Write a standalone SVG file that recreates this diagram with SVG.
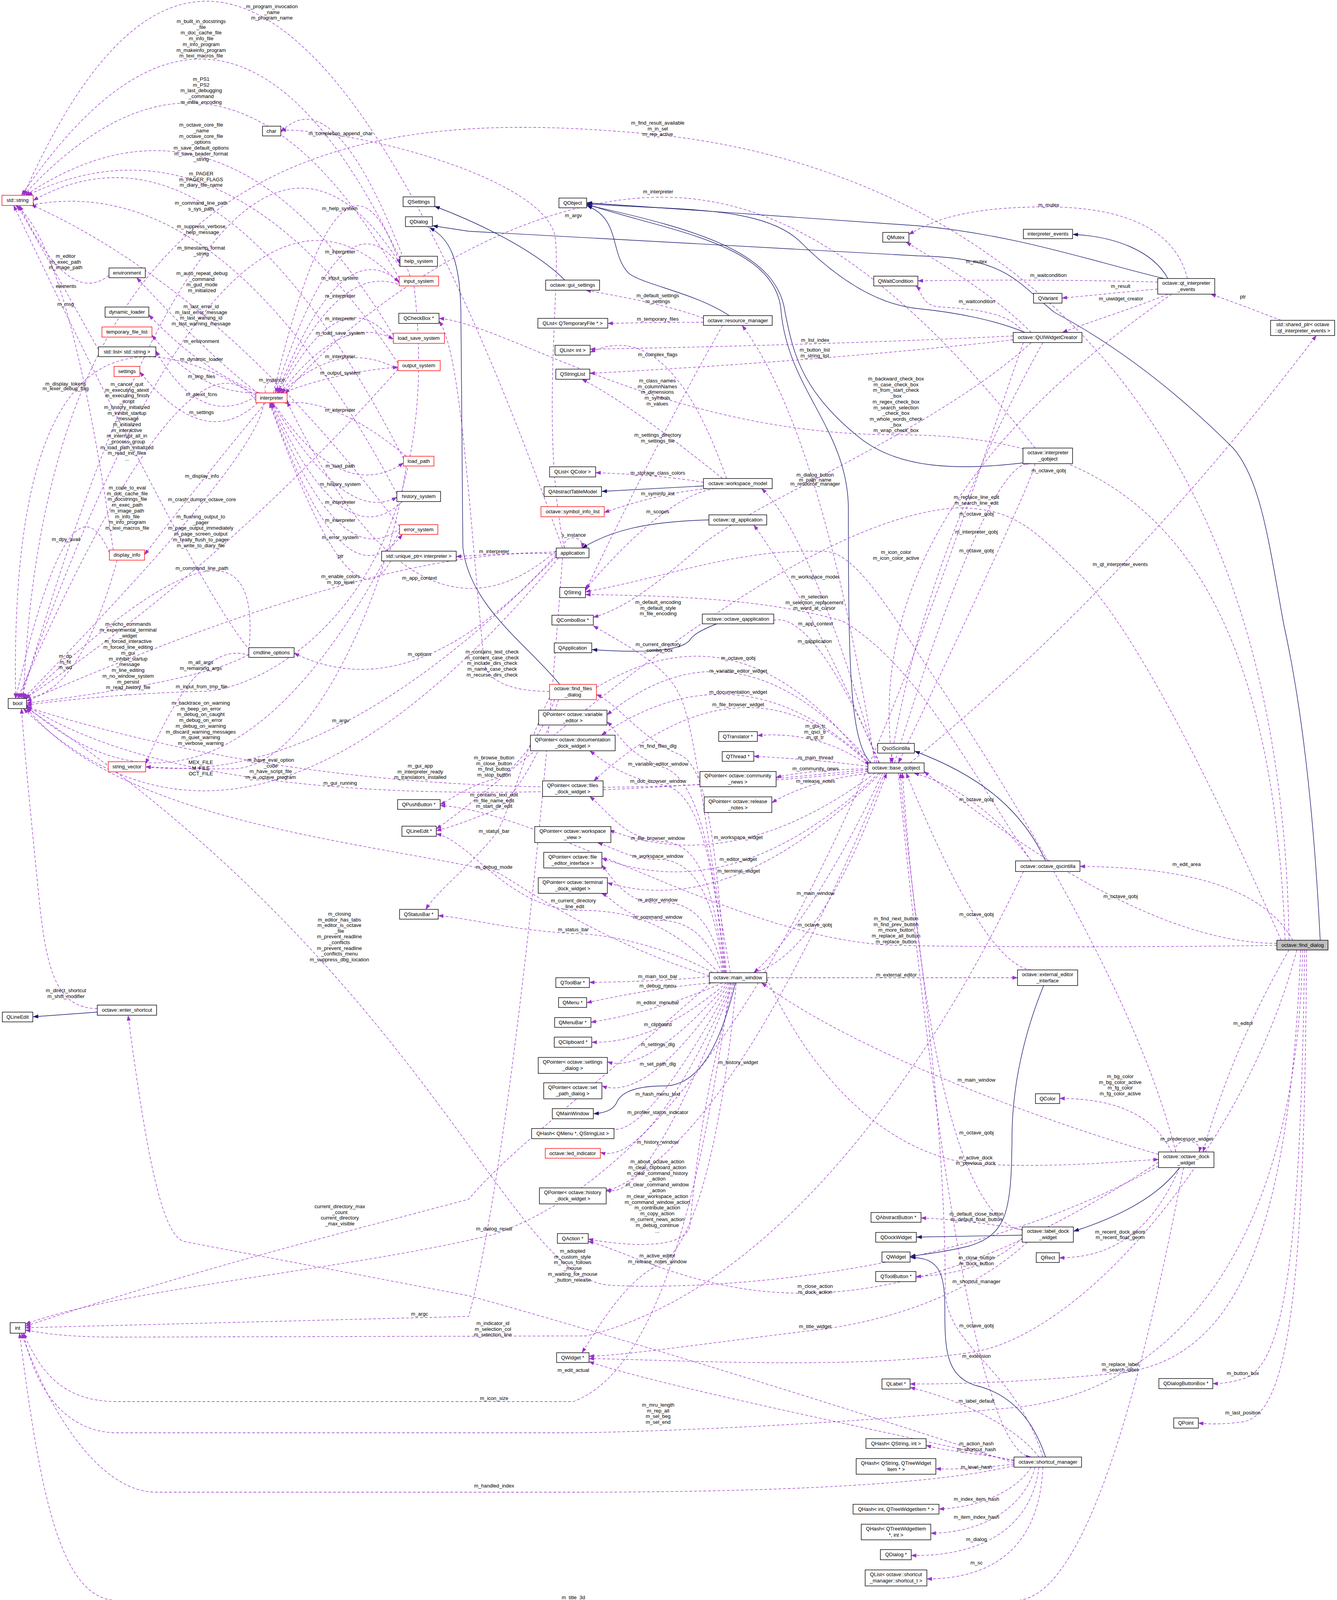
<svg xmlns="http://www.w3.org/2000/svg" width="3423" height="4104" viewBox="0 0 3423 4104">
<style>
text{font-family:"Liberation Sans",Arial,sans-serif;font-size:13px;fill:#000;text-anchor:middle}
.nd rect{fill:#fff;stroke:#000;stroke-width:1.4}
.nd.r rect{stroke:#f00}
.nd.g rect{fill:#bfbfbf}
.e path{fill:none;stroke:#9a32cd;stroke-width:1.3;stroke-dasharray:7,5;marker-end:url(#ap)}
.i path{fill:none;stroke:#191970;stroke-width:1.4;marker-end:url(#ai)}
</style>
<defs>
<marker id="ap" viewBox="0 0 14 10" refX="13" refY="5" markerWidth="14" markerHeight="10" markerUnits="userSpaceOnUse" orient="auto"><path d="M0,0 L14,5 L0,10 z" fill="#9a32cd"/></marker>
<marker id="ai" viewBox="0 0 14 10" refX="13" refY="5" markerWidth="14" markerHeight="10" markerUnits="userSpaceOnUse" orient="auto"><path d="M0,0 L14,5 L0,10 z" fill="#191970"/></marker>
</defs>
<rect width="3423" height="4104" fill="#fff"/>
<g id="connectors">
<g class="i">
<path d="M3380,2407 C3360,2000 3320,1750 3287,1600 C3250,1400 3230,1230 3157,1147 C3000,990 2850,880 2700,800 C2600,720 2580,660 2350,655 L1200,592 L1108,578"/>
<path d="M1433,1752 C1350,1650 1200,1550 1185,1400 L1180,800 C1178,660 1150,610 1100,583"/>
<path d="M1446,717 C1380,650 1250,580 1113,528"/>
<path d="M1867,808 C1780,750 1650,730 1610,700 C1560,650 1590,560 1503,527"/>
<path d="M2230,1953 C2175,1900 2172,1700 2172,1300 C2170,1100 2020,1000 2000,800 C1990,620 1700,590 1503,523"/>
<path d="M2619,1185 C2450,1205 2300,1200 2200,1120 C2050,1000 2030,900 2010,800 C1990,650 1800,590 1503,525"/>
<path d="M2980,713 C2800,670 2600,600 2350,578 L1503,519"/>
<path d="M2624,851 C2550,820 2450,800 2350,790 C2250,780 2150,720 2050,620 C1950,520 1700,540 1503,521"/>
<path d="M2990,713 C2950,640 2850,605 2747,600"/>
<path d="M2677,2204 C2620,2080 2520,1990 2342,1923"/>
<path d="M2672,2523 C2620,2650 2593,2780 2591,2900 C2590,3100 2580,3160 2480,3190 C2420,3205 2360,3212 2331,3216"/>
<path d="M2617,3162 L2347,3167"/>
<path d="M3020,2989 C2960,3070 2850,3120 2749,3152"/>
<path d="M2677,3730 C2650,3650 2600,3570 2495,3546 C2420,3520 2419,3450 2419,3350 C2419,3250 2400,3220 2331,3219"/>
<path d="M1883,2516 C1850,2650 1800,2780 1700,2780 C1620,2780 1590,2800 1580,2820 C1570,2845 1540,2850 1520,2851"/>
<path d="M1801,1244 L1541,1258"/>
<path d="M1815,1331 C1650,1335 1560,1360 1491,1403"/>
<path d="M1835,1597 C1790,1615 1775,1625 1765,1640 C1740,1668 1640,1672 1516,1663"/>
<path d="M249,2591 L85,2603"/>
</g>
<g class="e">
<path d="M1440,1403 Q650,-831 60,500"/>
<path d="M1024,662 Q580,-271 55,500"/>
<path d="M1022,712 Q579,-62 60,500"/>
<path d="M1007,858 Q584,153 65,500"/>
<path d="M1019,930 Q575,257 70,500"/>
<path d="M1033,1174 Q561,250 85,513"/>
<path d="M1023,1348 Q568,744 80,524"/>
<path d="M1016,1264 Q574,425 75,526"/>
<path d="M279,705 Q175,788 50,526"/>
<path d="M252,895 Q191,785 45,526"/>
<path d="M290,1408 Q175,623 40,526"/>
<path d="M640,1665 Q502,1504 35,526"/>
<path d="M1024,675 Q580,-21 55,1788"/>
<path d="M1022,725 Q584,258 50,1788"/>
<path d="M655,1012 Q20,620 40,1788"/>
<path d="M655,1025 Q480,793 45,1788"/>
<path d="M655,1015 Q513,1100 399,898"/>
<path d="M660,1031 Q523,1158 358,952"/>
<path d="M660,1006 Q535,911 350,711"/>
<path d="M665,1006 Q517,950 381,806"/>
<path d="M670,1006 Q510,1012 389,858"/>
<path d="M680,1006 C668,968 722,968 710,1006"/>
<path d="M700,1006 Q878,259 1024,676"/>
<path d="M1024,682 Q875,476 705,1006"/>
<path d="M710,1006 Q874,590 1022,722"/>
<path d="M1030,732 Q869,661 712,1006"/>
<path d="M1010,879 Q877,701 715,1006"/>
<path d="M718,1006 Q877,799 1007,868"/>
<path d="M1019,945 Q870,864 720,1006"/>
<path d="M722,1006 Q869,951 1019,940"/>
<path d="M1050,707 Q860,191 719,338"/>
<path d="M1040,1168 Q857,1016 725,1031"/>
<path d="M700,1031 Q873,1292 1033,1185"/>
<path d="M698,1031 Q883,1344 1016,1273"/>
<path d="M1030,1284 Q877,1430 696,1031"/>
<path d="M1035,1343 Q875,1493 694,1031"/>
<path d="M692,1031 Q879,1568 1030,1368"/>
<path d="M1000,1436 Q899,1630 690,1031"/>
<path d="M680,1031 Q515,1230 370,1420"/>
<path d="M675,1031 Q666,1166 60,1788"/>
<path d="M1019,945 Q578,1443 65,1788"/>
<path d="M280,1415 Q180,1178 40,1788"/>
<path d="M637,1665 Q683,1202 65,1790"/>
<path d="M1424,1418 Q998,1393 68,1795"/>
<path d="M1424,1410 Q1068,1721 735,1028"/>
<path d="M1424,1420 Q1060,1824 753,1672"/>
<path d="M637,1675 Q527,1742 68,1800"/>
<path d="M300,1434 Q202,1789 55,1788"/>
<path d="M650,1683 Q516,1617 373,1955"/>
<path d="M1060,732 C1150,1500 700,1766 516,1770 C300,1775 100,1800 68,1805"/>
<path d="M1023,1360 Q574,2246 68,1808"/>
<path d="M1424,1425 Q845,2016 373,1963"/>
<path d="M1040,1193 C1000,1500 800,1960 600,1968 C500,1970 420,1965 373,1963"/>
<path d="M1430,1428 Q641,2379 60,1814"/>
<path d="M2222,1975 Q1007,2107 68,1810"/>
<path d="M2222,1970 Q597,2142 68,1806"/>
<path d="M3300,2407 C3280,900 2400,420 1684,345 C1000,280 120,300 60,1788"/>
<path d="M3290,2407 C3250,1300 2800,1113 2294,1113 C1700,1113 1300,830 1124,815"/>
<path d="M3269,2420 C3000,2425 2500,2425 2294,2420 C1900,2410 1400,2080 1127,2062"/>
<path d="M3280,2407 C3100,2000 2900,1600 2760,1466 C2650,1360 2600,1300 2450,1300 C2000,1330 1300,2000 1117,2122"/>
<path d="M3310,2407 C3250,2300 3100,2220 2765,2218"/>
<path d="M3300,2432 C3250,2520 3150,2700 3080,2949"/>
<path d="M3320,2432 C3200,2900 2800,3400 2500,3460 C2200,3510 1700,3480 1508,3478"/>
<path d="M3330,2432 C3300,3200 3150,3480 2868,3515 C2600,3540 2450,3543 2330,3543"/>
<path d="M3340,2432 C3330,3200 3290,3500 3182,3530 C3140,3542 3120,3542 3105,3542"/>
<path d="M3345,2432 C3340,3300 3300,3620 3182,3640 C3120,3648 3090,3645 3068,3643"/>
<path d="M3335,2432 C3320,3200 3000,3560 2600,3603 C2000,3660 1500,3668 1468,3668 L300,3668 C200,3668 100,3600 60,3413"/>
<path d="M2240,1953 Q2104,1107 1900,833"/>
<path d="M2245,1953 Q2077,1368 1950,1251"/>
<path d="M2250,1953 Q2086,1561 1930,1344"/>
<path d="M2252,1953 Q2066,1525 1960,1597"/>
<path d="M2230,1953 Q1888,1558 1554,1830"/>
<path d="M2228,1955 Q1896,1641 1540,1882"/>
<path d="M2226,1957 Q1907,1646 1520,1999"/>
<path d="M2222,1958 Q2093,1870 1939,1883"/>
<path d="M2222,1962 Q2100,1945 1930,1936"/>
<path d="M2222,1968 Q2072,1971 1987,1990"/>
<path d="M2230,1979 Q2073,1997 1976,2055"/>
<path d="M2240,1979 Q1880,2248 1560,2125"/>
<path d="M2250,1979 Q1885,2326 1541,2197"/>
<path d="M2255,1979 Q1877,2355 1555,2260"/>
<path d="M2260,1979 Q2081,2355 1930,2490"/>
<path d="M2265,1979 Q1871,2937 1552,3050"/>
<path d="M2290,1953 Q2535,1166 2640,1187"/>
<path d="M2330,1953 Q2886,1498 3370,859"/>
<path d="M2300,1979 Q2470,3721 2640,3730"/>
<path d="M2650,1187 Q2645,1230 2300,1953"/>
<path d="M3000,753 Q2197,1307 2285,1953"/>
<path d="M2670,877 Q2365,1425 2280,1953"/>
<path d="M1930,2490 Q2100,2445 2270,1979"/>
<path d="M1527,1760 Q1904,1530 2225,1960"/>
<path d="M2640,2204 Q2510,2028 2340,1979"/>
<path d="M3269,2415 Q2920,2415 2366,1975"/>
<path d="M2640,2483 Q2520,2469 2320,1979"/>
<path d="M2680,3141 Q2405,3260 2310,1979"/>
<path d="M2670,3730 C2600,3500 2420,3450 2420,3300 C2420,2800 2330,2300 2305,1979"/>
<path d="M2594,860 Q2121,883 1511,894"/>
<path d="M2594,870 Q2120,923 1510,956"/>
<path d="M1860,1225 Q1714,806 1511,902"/>
<path d="M1850,1225 Q1610,1032 1490,971"/>
<path d="M1801,815 Q1717,781 1500,743"/>
<path d="M1801,825 Q1684,825 1556,828"/>
<path d="M1850,833 Q1693,1108 1499,1512"/>
<path d="M1801,1235 Q1705,1217 1525,1210"/>
<path d="M1810,1251 Q1690,1262 1547,1312"/>
<path d="M1830,1251 Q1703,1270 1499,1508"/>
<path d="M1445,1403 C1438,1368 1497,1368 1490,1403"/>
<path d="M1424,1413 Q1265,1418 1168,1425"/>
<path d="M3010,2949 C2900,2500 2500,1900 2400,1746 C2300,1600 2200,1420 2118,1412 C1900,1400 1700,1480 1499,1515"/>
<path d="M2640,2204 C2500,2000 2350,1700 2157,1590 C1950,1530 1700,1525 1499,1522"/>
<path d="M2640,877 C2400,1100 1900,1300 1789,1402 C1700,1480 1600,1560 1519,1580"/>
<path d="M1870,2490 C1800,2100 1780,1850 1736,1772 C1700,1700 1600,1650 1519,1602"/>
<path d="M1860,2490 C1830,2200 1820,1960 1736,1930 C1640,1890 1580,1800 1527,1778"/>
<path d="M1858,2490 C1830,2250 1800,2000 1700,1965 C1600,1930 1580,1870 1554,1848"/>
<path d="M1856,2490 C1830,2250 1800,2030 1700,2010 C1600,1990 1560,1960 1510,1922"/>
<path d="M1854,2490 C1830,2300 1800,2160 1700,2155 C1600,2150 1560,2080 1510,2039"/>
<path d="M1852,2490 C1830,2320 1790,2200 1684,2200 C1620,2200 1580,2175 1530,2157"/>
<path d="M1850,2490 C1830,2380 1780,2300 1684,2312 C1600,2310 1570,2250 1541,2215"/>
<path d="M1848,2490 C1820,2420 1780,2355 1684,2356 C1600,2350 1570,2300 1540,2287"/>
<path d="M1840,2490 C1700,2350 1600,2330 1468,2330 C1300,2320 1200,2150 1117,2135"/>
<path d="M1835,2495 C1700,2420 1550,2390 1468,2390 C1300,2380 1200,2350 1122,2344"/>
<path d="M1407,1785 C1350,1900 1300,2100 1265,2140 C1200,2220 1120,2280 1090,2328"/>
<path d="M1816,2498 C1500,2400 1300,2240 1265,2230 C900,2150 300,2100 68,1812"/>
<path d="M1407,1770 C1300,1770 1250,1740 1240,1700 C1200,1300 1180,900 1124,822"/>
<path d="M1420,1791 C1380,1900 1300,1990 1265,1995 C1200,2010 1150,2050 1127,2059"/>
<path d="M1430,1791 C1380,1950 1300,2060 1265,2075 C1200,2100 1150,2120 1117,2126"/>
<path d="M1816,2500 Q1705,2512 1509,2515"/>
<path d="M1830,2516 Q1702,2524 1502,2567"/>
<path d="M1850,2516 Q1686,2589 1513,2617"/>
<path d="M1860,2516 Q1680,2672 1515,2668"/>
<path d="M1865,2516 Q1658,2751 1555,2718"/>
<path d="M1868,2516 Q1663,2822 1541,2780"/>
<path d="M1872,2516 Q1652,2921 1560,2889"/>
<path d="M1875,2516 Q1662,2987 1537,2950"/>
<path d="M1878,2516 Q1653,3090 1552,3045"/>
<path d="M1880,2516 C1800,2800 1780,3000 1766,3140 C1750,3200 1600,3190 1506,3172"/>
<path d="M2966,2975 C2700,3150 2400,3300 2087,3310 C1800,3320 1600,3200 1506,3178"/>
<path d="M1885,2516 C1850,2900 1780,3200 1683,3240 C1600,3280 1530,3400 1490,3463"/>
<path d="M2966,2985 C2400,3300 1700,3300 1560,3290 C1300,3270 1100,2500 68,1812"/>
<path d="M2617,3170 Q2519,3261 2345,3268"/>
<path d="M2617,3148 C2520,3130 2420,3120 2358,3118"/>
<path d="M2630,3180 C2500,3300 2300,3380 2087,3405 C1800,3440 1600,3470 1508,3472"/>
<path d="M3020,2989 C2950,3150 2850,3220 2712,3220"/>
<path d="M3000,2949 C2950,2850 2850,2812 2713,2812"/>
<path d="M2966,2955 C2700,2880 2200,2700 1950,2516"/>
<path d="M1963,2505 C2100,2800 2300,2960 2500,2980 C2700,2990 2850,2975 2966,2968"/>
<path d="M1963,2503 L2605,2503"/>
<path d="M3010,2949 C3000,2912 3080,2912 3070,2949"/>
<path d="M3030,2989 C2950,3400 2800,4097 2600,4097 L300,4097 C150,4097 100,3800 50,3413"/>
<path d="M2660,3730 C2600,3650 2450,3580 2330,3552"/>
<path d="M2596,3738 C2500,3720 2420,3715 2371,3700"/>
<path d="M2596,3748 C2500,3760 2440,3762 2396,3760"/>
<path d="M2640,3756 C2600,3820 2500,3860 2404,3863"/>
<path d="M2650,3756 C2620,3870 2500,3925 2383,3925"/>
<path d="M2660,3756 C2640,3920 2500,3985 2333,3982"/>
<path d="M2670,3756 C2660,3980 2520,4042 2373,4042"/>
<path d="M2596,3752 C2400,3800 2000,3820 1468,3820 L400,3820 C250,3820 120,3600 55,3413"/>
<path d="M2596,3740 C2200,3650 1700,3550 1508,3486"/>
<path d="M2596,3745 C2000,3550 1500,3400 1200,3317 L470,3178 C420,3160 380,3000 328,2600"/>
<path d="M249,2582 C150,2580 120,2500 100,2300 C80,2100 65,1950 55,1814"/>
<path d="M1820,2516 C1500,2800 1300,2950 1200,3070 C900,3150 500,3250 65,3395"/>
<path d="M1440,1428 C1400,2000 1300,3000 1200,3370 L65,3399"/>
<path d="M1870,2516 C1800,3000 1700,3500 1468,3588 L300,3588 C150,3588 100,3500 60,3413"/>
<path d="M2620,2231 C2400,2700 2000,3300 1500,3420 L300,3423 C150,3423 100,3410 65,3405"/>
<path d="M2620,877 C2400,1500 2000,2900 1265,3160 C900,3250 300,3300 65,3390"/>
<path d="M3040,713 C3000,550 2800,525 2640,530 C2450,535 2380,570 2327,600"/>
<path d="M2640,851 C2550,760 2420,680 2320,620"/>
<path d="M2964,722 C2700,715 2500,717 2350,719"/>
<path d="M2620,851 C2580,790 2450,790 2400,785 C2360,780 2360,745 2345,732"/>
<path d="M2964,740 C2850,750 2780,758 2719,763"/>
<path d="M2990,753 C2900,790 2800,820 2720,851"/>
<path d="M3280,820 C3200,790 3150,770 3100,753"/>
<path d="M2650,1147 C2300,700 2000,500 1685,505 C1300,510 900,800 730,1008"/>
<path d="M1445,1403 C1380,1100 1440,700 1420,600 C1380,450 900,330 719,333"/>
</g>
</g>
<g id="nodes">
<g id="n_string" class="nd r"><rect x="5" y="500" width="80" height="26"/><text x="45" y="517">std::string</text></g>
<g id="n_char" class="nd"><rect x="672" y="323" width="47" height="25"/><text x="695" y="340">char</text></g>
<g id="n_qsettings" class="nd"><rect x="1032" y="504" width="81" height="25"/><text x="1072" y="521">QSettings</text></g>
<g id="n_qdialog" class="nd"><rect x="1038" y="555" width="69" height="25"/><text x="1072" y="572">QDialog</text></g>
<g id="n_help" class="nd"><rect x="1024" y="656" width="96" height="26"/><text x="1072" y="673">help_system</text></g>
<g id="n_input" class="nd r"><rect x="1022" y="707" width="101" height="25"/><text x="1072" y="724">input_system</text></g>
<g id="n_env" class="nd"><rect x="279" y="686" width="93" height="25"/><text x="325" y="703">environment</text></g>
<g id="n_dyn" class="nd"><rect x="269" y="786" width="112" height="26"/><text x="325" y="803">dynamic_loader</text></g>
<g id="n_qcheck" class="nd"><rect x="1021" y="802" width="103" height="26"/><text x="1072" y="819">QCheckBox *</text></g>
<g id="n_tmp" class="nd r"><rect x="261" y="837" width="128" height="26"/><text x="325" y="854">temporary_file_list</text></g>
<g id="n_lss" class="nd r"><rect x="1007" y="853" width="131" height="26"/><text x="1072" y="870">load_save_system</text></g>
<g id="n_list" class="nd"><rect x="252" y="888" width="147" height="25"/><text x="325" y="905">std::list&lt; std::string &gt;</text></g>
<g id="n_out" class="nd r"><rect x="1019" y="923" width="108" height="26"/><text x="1072" y="940">output_system</text></g>
<g id="n_settings" class="nd r"><rect x="292" y="938" width="66" height="26"/><text x="325" y="955">settings</text></g>
<g id="n_interp" class="nd r"><rect x="655" y="1006" width="80" height="25"/><text x="695" y="1023">interpreter</text></g>
<g id="n_loadpath" class="nd r"><rect x="1033" y="1168" width="78" height="25"/><text x="1072" y="1185">load_path</text></g>
<g id="n_hist" class="nd"><rect x="1016" y="1258" width="112" height="26"/><text x="1072" y="1275">history_system</text></g>
<g id="n_err" class="nd r"><rect x="1023" y="1343" width="98" height="25"/><text x="1072" y="1360">error_system</text></g>
<g id="n_uptr" class="nd"><rect x="977" y="1411" width="191" height="25"/><text x="1072" y="1428">std::unique_ptr&lt; interpreter &gt;</text></g>
<g id="n_disp" class="nd r"><rect x="280" y="1408" width="90" height="26"/><text x="325" y="1425">display_info</text></g>
<g id="n_cmd" class="nd"><rect x="637" y="1658" width="116" height="25"/><text x="695" y="1675">cmdline_options</text></g>
<g id="n_bool" class="nd"><rect x="21" y="1788" width="47" height="26"/><text x="45" y="1805">bool</text></g>
<g id="n_sv" class="nd r"><rect x="277" y="1950" width="96" height="26"/><text x="325" y="1967">string_vector</text></g>
<g id="n_qobject" class="nd"><rect x="1431" y="507" width="71" height="25"/><text x="1466" y="524">QObject</text></g>
<g id="n_qmutex" class="nd"><rect x="2260" y="595" width="67" height="25"/><text x="2293" y="612">QMutex</text></g>
<g id="n_guiset" class="nd"><rect x="1397" y="717" width="138" height="26"/><text x="1466" y="734">octave::gui_settings</text></g>
<g id="n_qwait" class="nd"><rect x="2237" y="707" width="113" height="25"/><text x="2293" y="724">QWaitCondition</text></g>
<g id="n_qltmp" class="nd"><rect x="1377" y="815" width="179" height="25"/><text x="1466" y="832">QList&lt; QTemporaryFile * &gt;</text></g>
<g id="n_resman" class="nd"><rect x="1801" y="808" width="176" height="25"/><text x="1889" y="825">octave::resource_manager</text></g>
<g id="n_qlint" class="nd"><rect x="1421" y="884" width="90" height="25"/><text x="1466" y="901">QList&lt; int &gt;</text></g>
<g id="n_qsl" class="nd"><rect x="1423" y="945" width="87" height="26"/><text x="1466" y="962">QStringList</text></g>
<g id="n_qlcolor" class="nd"><rect x="1407" y="1195" width="118" height="26"/><text x="1466" y="1212">QList&lt; QColor &gt;</text></g>
<g id="n_wsm" class="nd"><rect x="1801" y="1225" width="176" height="26"/><text x="1889" y="1242">octave::workspace_model</text></g>
<g id="n_qatm" class="nd"><rect x="1393" y="1246" width="147" height="25"/><text x="1466" y="1263">QAbstractTableModel</text></g>
<g id="n_sil" class="nd r"><rect x="1385" y="1297" width="162" height="26"/><text x="1466" y="1314">octave::symbol_info_list</text></g>
<g id="n_qtapp" class="nd"><rect x="1815" y="1318" width="148" height="26"/><text x="1889" y="1335">octave::qt_application</text></g>
<g id="n_app" class="nd"><rect x="1424" y="1403" width="84" height="25"/><text x="1466" y="1420">application</text></g>
<g id="n_qstring" class="nd"><rect x="1433" y="1504" width="66" height="26"/><text x="1466" y="1521">QString</text></g>
<g id="n_qcombo" class="nd"><rect x="1413" y="1575" width="106" height="25"/><text x="1466" y="1592">QComboBox *</text></g>
<g id="n_oqapp" class="nd"><rect x="1798" y="1572" width="183" height="25"/><text x="1889" y="1589">octave::octave_qapplication</text></g>
<g id="n_qapp" class="nd"><rect x="1419" y="1646" width="96" height="25"/><text x="1466" y="1663">QApplication</text></g>
<g id="n_ffd" class="nd r"><rect x="1407" y="1752" width="120" height="39"/><text x="1467" y="1767">octave::find_files</text><text x="1467" y="1783">_dialog</text></g>
<g id="n_qpve" class="nd"><rect x="1379" y="1818" width="175" height="38"/><text x="1466" y="1833">QPointer&lt; octave::variable</text><text x="1466" y="1849">_editor &gt;</text></g>
<g id="n_qpdoc" class="nd"><rect x="1358" y="1882" width="217" height="40"/><text x="1466" y="1898">QPointer&lt; octave::documentation</text><text x="1466" y="1914">_dock_widget &gt;</text></g>
<g id="n_qtrans" class="nd"><rect x="1840" y="1873" width="99" height="25"/><text x="1889" y="1890">QTranslator *</text></g>
<g id="n_qsci" class="nd"><rect x="2247" y="1903" width="94" height="25"/><text x="2294" y="1920">QsciScintilla</text></g>
<g id="n_qthread" class="nd"><rect x="1849" y="1924" width="81" height="25"/><text x="1889" y="1941">QThread *</text></g>
<g id="n_bqo" class="nd"><rect x="2222" y="1953" width="144" height="26"/><text x="2294" y="1970">octave::base_qobject</text></g>
<g id="n_qpcn" class="nd"><rect x="1792" y="1975" width="195" height="39"/><text x="1889" y="1990">QPointer&lt; octave::community</text><text x="1889" y="2006">_news &gt;</text></g>
<g id="n_qpfd" class="nd"><rect x="1389" y="1999" width="155" height="40"/><text x="1466" y="2015">QPointer&lt; octave::files</text><text x="1466" y="2031">_dock_widget &gt;</text></g>
<g id="n_qprn" class="nd"><rect x="1803" y="2040" width="173" height="40"/><text x="1889" y="2056">QPointer&lt; octave::release</text><text x="1889" y="2072">_notes &gt;</text></g>
<g id="n_qpush" class="nd"><rect x="1018" y="2047" width="109" height="25"/><text x="1072" y="2064">QPushButton *</text></g>
<g id="n_qlep" class="nd"><rect x="1029" y="2115" width="88" height="26"/><text x="1073" y="2132">QLineEdit *</text></g>
<g id="n_qpwv" class="nd"><rect x="1369" y="2116" width="195" height="41"/><text x="1466" y="2132">QPointer&lt; octave::workspace</text><text x="1466" y="2148">_view &gt;</text></g>
<g id="n_qpfe" class="nd"><rect x="1392" y="2182" width="149" height="40"/><text x="1466" y="2198">QPointer&lt; octave::file</text><text x="1466" y="2214">_editor_interface &gt;</text></g>
<g id="n_qptd" class="nd"><rect x="1378" y="2247" width="177" height="40"/><text x="1466" y="2263">QPointer&lt; octave::terminal</text><text x="1466" y="2279">_dock_widget &gt;</text></g>
<g id="n_qsb" class="nd"><rect x="1023" y="2328" width="99" height="25"/><text x="1072" y="2345">QStatusBar *</text></g>
<g id="n_mw" class="nd"><rect x="1816" y="2490" width="147" height="26"/><text x="1889" y="2507">octave::main_window</text></g>
<g id="n_qtb" class="nd"><rect x="1423" y="2503" width="86" height="25"/><text x="1466" y="2520">QToolBar *</text></g>
<g id="n_qmenu" class="nd"><rect x="1430" y="2554" width="72" height="25"/><text x="1466" y="2571">QMenu *</text></g>
<g id="n_qmb" class="nd"><rect x="1420" y="2605" width="93" height="25"/><text x="1466" y="2622">QMenuBar *</text></g>
<g id="n_qclip" class="nd"><rect x="1419" y="2655" width="96" height="26"/><text x="1467" y="2672">QClipboard *</text></g>
<g id="n_qpsd" class="nd"><rect x="1378" y="2707" width="177" height="41"/><text x="1466" y="2723">QPointer&lt; octave::settings</text><text x="1466" y="2739">_dialog &gt;</text></g>
<g id="n_qpsp" class="nd"><rect x="1392" y="2772" width="149" height="41"/><text x="1466" y="2788">QPointer&lt; octave::set</text><text x="1466" y="2804">_path_dialog &gt;</text></g>
<g id="n_qmw" class="nd"><rect x="1414" y="2838" width="105" height="26"/><text x="1466" y="2855">QMainWindow</text></g>
<g id="n_qhm" class="nd"><rect x="1361" y="2889" width="211" height="26"/><text x="1466" y="2906">QHash&lt; QMenu *, QStringList &gt;</text></g>
<g id="n_led" class="nd r"><rect x="1396" y="2940" width="141" height="25"/><text x="1466" y="2957">octave::led_indicator</text></g>
<g id="n_qphd" class="nd"><rect x="1381" y="3041" width="171" height="41"/><text x="1466" y="3057">QPointer&lt; octave::history</text><text x="1466" y="3073">_dock_widget &gt;</text></g>
<g id="n_qaction" class="nd"><rect x="1427" y="3158" width="79" height="25"/><text x="1466" y="3175">QAction *</text></g>
<g id="n_qle" class="nd"><rect x="6" y="2591" width="78" height="25"/><text x="45" y="2608">QLineEdit</text></g>
<g id="n_es" class="nd"><rect x="249" y="2573" width="152" height="26"/><text x="325" y="2590">octave::enter_shortcut</text></g>
<g id="n_qab" class="nd"><rect x="2230" y="3104" width="128" height="25"/><text x="2294" y="3121">QAbstractButton *</text></g>
<g id="n_qdw" class="nd"><rect x="2242" y="3155" width="104" height="25"/><text x="2294" y="3172">QDockWidget</text></g>
<g id="n_qwidget" class="nd"><rect x="2258" y="3205" width="72" height="26"/><text x="2294" y="3222">QWidget</text></g>
<g id="n_qtbtn" class="nd"><rect x="2242" y="3255" width="103" height="26"/><text x="2294" y="3272">QToolButton *</text></g>
<g id="n_int" class="nd"><rect x="26" y="3386" width="39" height="27"/><text x="45" y="3404">int</text></g>
<g id="n_qwp" class="nd"><rect x="1425" y="3463" width="83" height="25"/><text x="1466" y="3480">QWidget *</text></g>
<g id="n_qlabel" class="nd"><rect x="2258" y="3530" width="72" height="26"/><text x="2294" y="3547">QLabel *</text></g>
<g id="n_qhsi" class="nd"><rect x="2217" y="3683" width="154" height="25"/><text x="2294" y="3700">QHash&lt; QString, int &gt;</text></g>
<g id="n_qhst" class="nd"><rect x="2192" y="3734" width="204" height="40"/><text x="2294" y="3750">QHash&lt; QString, QTreeWidget</text><text x="2294" y="3766">Item * &gt;</text></g>
<g id="n_qhit" class="nd"><rect x="2184" y="3851" width="220" height="25"/><text x="2294" y="3868">QHash&lt; int, QTreeWidgetItem * &gt;</text></g>
<g id="n_qhti" class="nd"><rect x="2205" y="3902" width="178" height="40"/><text x="2294" y="3918">QHash&lt; QTreeWidgetItem</text><text x="2294" y="3934">*, int &gt;</text></g>
<g id="n_qdp" class="nd"><rect x="2254" y="3967" width="79" height="26"/><text x="2294" y="3984">QDialog *</text></g>
<g id="n_qlsc" class="nd"><rect x="2215" y="4019" width="158" height="41"/><text x="2294" y="4035">QList&lt; octave::shortcut</text><text x="2294" y="4051">_manager::shortcut_t &gt;</text></g>
<g id="n_ie" class="nd"><rect x="2620" y="587" width="126" height="24"/><text x="2683" y="603">interpreter_events</text></g>
<g id="n_qie" class="nd"><rect x="2964" y="713" width="146" height="40"/><text x="3037" y="729">octave::qt_interpreter</text><text x="3037" y="745">_events</text></g>
<g id="n_qvar" class="nd"><rect x="2646" y="751" width="73" height="25"/><text x="2683" y="768">QVariant</text></g>
<g id="n_quiw" class="nd"><rect x="2594" y="851" width="176" height="26"/><text x="2682" y="868">octave::QUIWidgetCreator</text></g>
<g id="n_sptr" class="nd"><rect x="3253" y="820" width="164" height="39"/><text x="3335" y="835">std::shared_ptr&lt; octave</text><text x="3335" y="851">::qt_interpreter_events &gt;</text></g>
<g id="n_iqo" class="nd"><rect x="2619" y="1147" width="127" height="40"/><text x="2683" y="1163">octave::interpreter</text><text x="2683" y="1179">_qobject</text></g>
<g id="n_oqs" class="nd"><rect x="2600" y="2204" width="165" height="27"/><text x="2683" y="2222">octave::octave_qscintilla</text></g>
<g id="n_fd" class="nd g"><rect x="3269" y="2407" width="131" height="25"/><text x="3335" y="2424">octave::find_dialog</text></g>
<g id="n_eei" class="nd"><rect x="2605" y="2483" width="154" height="40"/><text x="2682" y="2499">octave::external_editor</text><text x="2682" y="2515">_interface</text></g>
<g id="n_qcolor" class="nd"><rect x="2651" y="2800" width="62" height="25"/><text x="2682" y="2817">QColor</text></g>
<g id="n_odw" class="nd"><rect x="2966" y="2949" width="142" height="40"/><text x="3037" y="2965">octave::octave_dock</text><text x="3037" y="2981">_widget</text></g>
<g id="n_ldw" class="nd"><rect x="2617" y="3141" width="131" height="39"/><text x="2683" y="3156">octave::label_dock</text><text x="2683" y="3172">_widget</text></g>
<g id="n_qrect" class="nd"><rect x="2653" y="3207" width="59" height="25"/><text x="2683" y="3224">QRect</text></g>
<g id="n_qdbb" class="nd"><rect x="2967" y="3529" width="138" height="26"/><text x="3036" y="3546">QDialogButtonBox *</text></g>
<g id="n_qpoint" class="nd"><rect x="3005" y="3630" width="63" height="26"/><text x="3036" y="3647">QPoint</text></g>
<g id="n_sm" class="nd"><rect x="2596" y="3730" width="173" height="26"/><text x="2683" y="3747">octave::shortcut_manager</text></g>
</g>
<g id="labels">
<text x="696" y="21">m_program_invocation<tspan x="696" dy="14.7">_name</tspan><tspan x="696" dy="14.7">m_program_name</tspan></text>
<text x="515" y="59">m_built_in_docstrings<tspan x="515" dy="14.7">_file</tspan><tspan x="515" dy="14.7">m_doc_cache_file</tspan><tspan x="515" dy="14.7">m_info_file</tspan><tspan x="515" dy="14.7">m_info_program</tspan><tspan x="515" dy="14.7">m_makeinfo_program</tspan><tspan x="515" dy="14.7">m_texi_macros_file</tspan></text>
<text x="515" y="207">m_PS1<tspan x="515" dy="14.7">m_PS2</tspan><tspan x="515" dy="14.7">m_last_debugging</tspan><tspan x="515" dy="14.7">_command</tspan><tspan x="515" dy="14.7">m_mfile_encoding</tspan></text>
<text x="515" y="324">m_octave_core_file<tspan x="515" dy="14.7">_name</tspan><tspan x="515" dy="14.7">m_octave_core_file</tspan><tspan x="515" dy="14.7">_options</tspan><tspan x="515" dy="14.7">m_save_default_options</tspan><tspan x="515" dy="14.7">m_save_header_format</tspan><tspan x="515" dy="14.7">_string</tspan></text>
<text x="515" y="449">m_PAGER<tspan x="515" dy="14.7">m_PAGER_FLAGS</tspan><tspan x="515" dy="14.7">m_diary_file_name</tspan></text>
<text x="515" y="524">m_command_line_path<tspan x="515" dy="14.7">s_sys_path</tspan></text>
<text x="515" y="584">m_suppress_verbose<tspan x="515" dy="14.7">_help_message</tspan></text>
<text x="515" y="639">m_timestamp_format<tspan x="515" dy="14.7">_string</tspan></text>
<text x="168" y="660">m_editor<tspan x="168" dy="14.7">m_exec_path</tspan><tspan x="168" dy="14.7">m_image_path</tspan></text>
<text x="169" y="737">elements</text>
<text x="168" y="783">m_msg</text>
<text x="870" y="538">m_help_system</text>
<text x="871" y="649">m_interpreter</text>
<text x="870" y="716">m_input_system</text>
<text x="871" y="762">m_interpreter</text>
<text x="871" y="820">m_interpreter</text>
<text x="871" y="857">m_load_save_system</text>
<text x="871" y="917">m_interpreter</text>
<text x="871" y="959">m_output_system</text>
<text x="696" y="977">m_instance</text>
<text x="872" y="346">m_completion_append_char</text>
<text x="517" y="704">m_auto_repeat_debug<tspan x="517" dy="14.7">_command</tspan><tspan x="517" dy="14.7">m_gud_mode</tspan><tspan x="517" dy="14.7">m_initialized</tspan></text>
<text x="515" y="789">m_last_error_id<tspan x="515" dy="14.7">m_last_error_message</tspan><tspan x="515" dy="14.7">m_last_warning_id</tspan><tspan x="515" dy="14.7">m_last_warning_message</tspan></text>
<text x="516" y="878">m_environment</text>
<text x="516" y="924">m_dynamic_loader</text>
<text x="516" y="968">m_tmp_files</text>
<text x="168" y="987">m_display_tokens<tspan x="168" dy="12">m_lexer_debug_flag</tspan></text>
<text x="325" y="988">m_cancel_quit<tspan x="325" dy="14.7">m_executing_atexit</tspan><tspan x="325" dy="14.7">m_executing_finish</tspan><tspan x="325" dy="14.7">_script</tspan><tspan x="325" dy="14.7">m_history_initialized</tspan><tspan x="325" dy="14.7">m_inhibit_startup</tspan><tspan x="325" dy="14.7">_message</tspan><tspan x="325" dy="14.7">m_initialized</tspan><tspan x="325" dy="14.7">m_interactive</tspan><tspan x="325" dy="14.7">m_interrupt_all_in</tspan><tspan x="325" dy="14.7">_process_group</tspan><tspan x="325" dy="14.7">m_load_path_initialized</tspan><tspan x="325" dy="14.7">m_read_init_files</tspan><tspan x="325" dy="14.7">...</tspan></text>
<text x="516" y="1014">m_atexit_fcns</text>
<text x="516" y="1060">m_settings</text>
<text x="871" y="1054">m_interpreter</text>
<text x="871" y="1197">m_load_path</text>
<text x="871" y="1244">m_history_system</text>
<text x="871" y="1290">m_interpreter</text>
<text x="871" y="1336">m_interpreter</text>
<text x="871" y="1380">m_error_system</text>
<text x="872" y="1428">ptr</text>
<text x="517" y="1223">m_display_info</text>
<text x="517" y="1283">m_crash_dumps_octave_core</text>
<text x="514" y="1327">m_flushing_output_to<tspan x="514" dy="14.7">_pager</tspan><tspan x="514" dy="14.7">m_page_output_immediately</tspan><tspan x="514" dy="14.7">m_page_screen_output</tspan><tspan x="514" dy="14.7">m_really_flush_to_pager</tspan><tspan x="514" dy="14.7">m_write_to_diary_file</tspan></text>
<text x="326" y="1253">m_code_to_eval<tspan x="326" dy="14.7">m_doc_cache_file</tspan><tspan x="326" dy="14.7">m_docstrings_file</tspan><tspan x="326" dy="14.7">m_exec_path</tspan><tspan x="326" dy="14.7">m_image_path</tspan><tspan x="326" dy="14.7">m_info_file</tspan><tspan x="326" dy="14.7">m_info_program</tspan><tspan x="326" dy="14.7">m_texi_macros_file</tspan></text>
<text x="169" y="1385">m_dpy_avail</text>
<text x="517" y="1459">m_command_line_path</text>
<text x="872" y="1480">m_enable_colors<tspan x="872" dy="14.7">m_top_level</tspan></text>
<text x="1074" y="1484">m_app_context</text>
<text x="1074" y="1679">m_options</text>
<text x="328" y="1602">m_echo_commands<tspan x="328" dy="14.75">m_experimental_terminal</tspan><tspan x="328" dy="14.75">_widget</tspan><tspan x="328" dy="14.75">m_forced_interactive</tspan><tspan x="328" dy="14.75">m_forced_line_editing</tspan><tspan x="328" dy="14.75">m_gui</tspan><tspan x="328" dy="14.75">m_inhibit_startup</tspan><tspan x="328" dy="14.75">_message</tspan><tspan x="328" dy="14.75">m_line_editing</tspan><tspan x="328" dy="14.75">m_no_window_system</tspan><tspan x="328" dy="14.75">m_persist</tspan><tspan x="328" dy="14.75">m_read_history_file</tspan><tspan x="328" dy="14.75">...</tspan></text>
<text x="167" y="1684">m_dp<tspan x="167" dy="14.7">m_ht</tspan><tspan x="167" dy="14.7">m_wd</tspan></text>
<text x="514" y="1700">m_all_args<tspan x="514" dy="14.7">m_remaining_args</tspan></text>
<text x="516" y="1762">m_input_from_tmp_file</text>
<text x="514" y="1804">m_backtrace_on_warning<tspan x="514" dy="14.7">m_beep_on_error</tspan><tspan x="514" dy="14.7">m_debug_on_caught</tspan><tspan x="514" dy="14.7">m_debug_on_error</tspan><tspan x="514" dy="14.7">m_debug_on_warning</tspan><tspan x="514" dy="14.7">m_discard_warning_messages</tspan><tspan x="514" dy="14.7">m_quiet_warning</tspan><tspan x="514" dy="14.7">m_verbose_warning</tspan></text>
<text x="872" y="1849">m_argv</text>
<text x="514" y="1956">MEX_FILE<tspan x="514" dy="14.7">M_FILE</tspan><tspan x="514" dy="14.7">OCT_FILE</tspan></text>
<text x="693" y="1950">m_have_eval_option<tspan x="693" dy="14.7">_code</tspan><tspan x="693" dy="14.7">m_have_script_file</tspan><tspan x="693" dy="14.7">m_is_octave_program</tspan></text>
<text x="1076" y="1965">m_gui_app<tspan x="1076" dy="14.7">m_interpreter_ready</tspan><tspan x="1076" dy="14.7">m_translators_installed</tspan></text>
<text x="871" y="2009">m_gui_running</text>
<text x="1684" y="319">m_find_result_available<tspan x="1684" dy="14.7">m_in_sel</tspan><tspan x="1684" dy="14.7">m_rep_active</tspan></text>
<text x="1685" y="495">m_interpreter</text>
<text x="1468" y="556">m_argv</text>
<text x="1684" y="761">m_default_settings<tspan x="1684" dy="14.7">m_settings</tspan></text>
<text x="1684" y="821">m_temporary_files</text>
<text x="2087" y="875">m_list_index</text>
<text x="2086" y="900">m_button_list<tspan x="2086" dy="14.7">m_string_list</tspan></text>
<text x="1684" y="912">m_complex_flags</text>
<text x="1683" y="979">m_class_names<tspan x="1683" dy="14.7">m_columnNames</tspan><tspan x="1683" dy="14.7">m_dimensions</tspan><tspan x="1683" dy="14.7">m_symbols</tspan><tspan x="1683" dy="14.7">m_values</tspan></text>
<text x="2294" y="974">m_backward_check_box<tspan x="2294" dy="14.7">m_case_check_box</tspan><tspan x="2294" dy="14.7">m_from_start_check</tspan><tspan x="2294" dy="14.7">_box</tspan><tspan x="2294" dy="14.7">m_regex_check_box</tspan><tspan x="2294" dy="14.7">m_search_selection</tspan><tspan x="2294" dy="14.7">_check_box</tspan><tspan x="2294" dy="14.7">m_whole_words_check</tspan><tspan x="2294" dy="14.7">_box</tspan><tspan x="2294" dy="14.7">m_wrap_check_box</tspan></text>
<text x="1684" y="1118">m_settings_directory<tspan x="1684" dy="14.7">m_settings_file</tspan></text>
<text x="1684" y="1215">m_storage_class_colors</text>
<text x="1684" y="1268">m_syminfo_list</text>
<text x="2087" y="1220">m_dialog_button<tspan x="2087" dy="13">m_path_name</tspan><tspan x="2087" dy="10">m_resource_manager</tspan></text>
<text x="1684" y="1314">m_scopes</text>
<text x="1469" y="1374">s_instance</text>
<text x="1265" y="1416">m_interpreter</text>
<text x="2294" y="1418">m_icon_color<tspan x="2294" dy="14.7">m_icon_color_active</tspan></text>
<text x="2087" y="1481">m_workspace_model</text>
<text x="2085" y="1532">m_selection<tspan x="2085" dy="14.7">m_selection_replacement</tspan><tspan x="2085" dy="14.7">m_word_at_cursor</tspan></text>
<text x="1685" y="1546">m_default_encoding<tspan x="1685" dy="14.7">m_default_style</tspan><tspan x="1685" dy="14.7">m_file_encoding</tspan></text>
<text x="2088" y="1601">m_app_context</text>
<text x="2086" y="1646">m_qapplication</text>
<text x="1685" y="1654">m_current_directory<tspan x="1685" dy="14.7">_combo_box</tspan></text>
<text x="1890" y="1689">m_octave_qobj</text>
<text x="1890" y="1722">m_variable_editor_widget</text>
<text x="1890" y="1776">m_documentation_widget</text>
<text x="1890" y="1808">m_file_browser_widget</text>
<text x="1260" y="1673">m_contains_text_check<tspan x="1260" dy="14.7">m_content_case_check</tspan><tspan x="1260" dy="14.7">m_include_dirs_check</tspan><tspan x="1260" dy="14.7">m_name_case_check</tspan><tspan x="1260" dy="14.7">m_recurse_dirs_check</tspan></text>
<text x="2087" y="1863">m_gui_tr<tspan x="2087" dy="14.7">m_qsci_tr</tspan><tspan x="2087" dy="14.7">m_qt_tr</tspan></text>
<text x="1685" y="1914">m_find_files_dlg</text>
<text x="2088" y="1944">m_main_thread</text>
<text x="1685" y="1960">m_variable_editor_window</text>
<text x="2088" y="1972">m_community_news</text>
<text x="1265" y="1944">m_browse_button<tspan x="1265" dy="14.7">m_close_button</tspan><tspan x="1265" dy="14.7">m_find_button</tspan><tspan x="1265" dy="14.7">m_stop_button</tspan></text>
<text x="1685" y="2004">m_doc_browser_window</text>
<text x="2088" y="2004">m_release_notes</text>
<text x="1265" y="2039">m_contains_text_edit<tspan x="1265" dy="14.7">m_file_name_edit</tspan><tspan x="1265" dy="14.7">m_start_dir_edit</tspan></text>
<text x="1265" y="2132">m_status_bar</text>
<text x="1890" y="2148">m_workspace_widget</text>
<text x="1684" y="2150">m_file_browser_window</text>
<text x="1684" y="2196">m_workspace_window</text>
<text x="1890" y="2204">m_editor_widget</text>
<text x="1265" y="2224">m_debug_mode</text>
<text x="1891" y="2234">m_terminal_widget</text>
<text x="2088" y="2291">m_main_window</text>
<text x="1468" y="2310">m_current_directory<tspan x="1468" dy="14.7">_line_edit</tspan></text>
<text x="1684" y="2308">m_editor_window</text>
<text x="1684" y="2352">m_command_window</text>
<text x="1468" y="2384">m_status_bar</text>
<text x="2086" y="2372">m_octave_qobj</text>
<text x="2294" y="2356">m_find_next_button<tspan x="2294" dy="14.7">m_find_prev_button</tspan><tspan x="2294" dy="14.7">m_more_button</tspan><tspan x="2294" dy="14.7">m_replace_all_button</tspan><tspan x="2294" dy="14.7">m_replace_button</tspan></text>
<text x="1684" y="2504">m_main_tool_bar</text>
<text x="2295" y="2500">m_external_editor</text>
<text x="1684" y="2528">m_debug_menu</text>
<text x="1684" y="2571">m_editor_menubar</text>
<text x="1684" y="2627">m_clipboard</text>
<text x="1684" y="2678">m_settings_dlg</text>
<text x="1684" y="2728">m_set_path_dlg</text>
<text x="1890" y="2724">m_history_widget</text>
<text x="1684" y="2805">m_hash_menu_text</text>
<text x="1684" y="2852">m_profiler_status_indicator</text>
<text x="1684" y="2928">m_history_window</text>
<text x="1683" y="2978">m_about_octave_action<tspan x="1683" dy="14.8">m_clear_clipboard_action</tspan><tspan x="1683" dy="14.8">m_clear_command_history</tspan><tspan x="1683" dy="14.8">_action</tspan><tspan x="1683" dy="14.8">m_clear_command_window</tspan><tspan x="1683" dy="14.8">_action</tspan><tspan x="1683" dy="14.8">m_clear_workspace_action</tspan><tspan x="1683" dy="14.8">m_command_window_action</tspan><tspan x="1683" dy="14.8">m_contribute_action</tspan><tspan x="1683" dy="14.8">m_copy_action</tspan><tspan x="1683" dy="14.8">m_current_news_action</tspan><tspan x="1683" dy="14.8">m_debug_continue</tspan><tspan x="1683" dy="14.8">...</tspan></text>
<text x="1265" y="3150">m_dialog_result</text>
<text x="1466" y="3207">m_adopted<tspan x="1466" dy="14.7">m_custom_style</tspan><tspan x="1466" dy="14.7">m_focus_follows</tspan><tspan x="1466" dy="14.7">_mouse</tspan><tspan x="1466" dy="14.7">m_waiting_for_mouse</tspan><tspan x="1466" dy="14.7">_button_release</tspan></text>
<text x="1683" y="3219">m_active_editor<tspan x="1683" dy="14.7">m_release_notes_window</tspan></text>
<text x="2087" y="3297">m_close_action<tspan x="2087" dy="14.7">m_dock_action</tspan></text>
<text x="2500" y="3224">m_close_button<tspan x="2500" dy="14.7">m_dock_button</tspan></text>
<text x="2500" y="3285">m_shortcut_manager</text>
<text x="2087" y="3400">m_title_widget</text>
<text x="2500" y="3398">m_octave_qobj</text>
<text x="1262" y="3392">m_indicator_id<tspan x="1262" dy="14.7">m_selection_col</tspan><tspan x="1262" dy="14.7">m_selection_line</tspan></text>
<text x="2500" y="3476">m_extension</text>
<text x="1468" y="3512">m_edit_actual</text>
<text x="1265" y="3584">m_icon_size</text>
<text x="2500" y="3591">m_label_default</text>
<text x="1685" y="3601">m_mru_length<tspan x="1685" dy="14.7">m_rep_all</tspan><tspan x="1685" dy="14.7">m_sel_beg</tspan><tspan x="1685" dy="14.7">m_sel_end</tspan></text>
<text x="2500" y="3700">m_action_hash<tspan x="2500" dy="14.7">m_shortcut_hash</tspan></text>
<text x="2500" y="3760">m_level_hash</text>
<text x="1265" y="3808">m_handled_index</text>
<text x="2500" y="3842">m_index_item_hash</text>
<text x="2500" y="3888">m_item_index_hash</text>
<text x="2500" y="3945">m_dialog</text>
<text x="2500" y="4005">m_sc</text>
<text x="1468" y="4094">m_title_3d</text>
<text x="2685" y="529">m_mutex</text>
<text x="2500" y="674">m_mutex</text>
<text x="2684" y="709">m_waitcondition</text>
<text x="2501" y="776">m_waitcondition</text>
<text x="2869" y="737">m_result</text>
<text x="2870" y="769">m_uiwidget_creator</text>
<text x="3182" y="764">ptr</text>
<text x="2685" y="1209">m_octave_qobj</text>
<text x="2500" y="1277">m_replace_line_edit<tspan x="2500" dy="14.7">m_search_line_edit</tspan></text>
<text x="2500" y="1320">m_octave_qobj</text>
<text x="2500" y="1366">m_interpreter_qobj</text>
<text x="2500" y="1414">m_octave_qobj</text>
<text x="2868" y="1449">m_qt_interpreter_events</text>
<text x="2500" y="2051">m_octave_qobj</text>
<text x="3038" y="2217">m_edit_area</text>
<text x="2869" y="2299">m_octave_qobj</text>
<text x="2500" y="2345">m_octave_qobj</text>
<text x="3183" y="2624">m_editor</text>
<text x="2500" y="2769">m_main_window</text>
<text x="2868" y="2760">m_bg_color<tspan x="2868" dy="14.7">m_bg_color_active</tspan><tspan x="2868" dy="14.7">m_fg_color</tspan><tspan x="2868" dy="14.7">m_fg_color_active</tspan></text>
<text x="2500" y="2904">m_octave_qobj</text>
<text x="3038" y="2920">m_predecessor_widget</text>
<text x="2498" y="2968">m_active_dock<tspan x="2498" dy="14.4">m_previous_dock</tspan></text>
<text x="2500" y="3112">m_default_close_button<tspan x="2500" dy="14.4">m_default_float_button</tspan></text>
<text x="2868" y="3158">m_recent_dock_geom<tspan x="2868" dy="14.4">m_recent_float_geom</tspan></text>
<text x="2868" y="3497">m_replace_label<tspan x="2868" dy="14.4">m_search_label</tspan></text>
<text x="3182" y="3520">m_button_box</text>
<text x="3182" y="3621">m_last_position</text>
<text x="869" y="2344">m_closing<tspan x="869" dy="14.6">m_editor_has_tabs</tspan><tspan x="869" dy="14.6">m_editor_is_octave</tspan><tspan x="869" dy="14.6">_file</tspan><tspan x="869" dy="14.6">m_prevent_readline</tspan><tspan x="869" dy="14.6">_conflicts</tspan><tspan x="869" dy="14.6">m_prevent_readline</tspan><tspan x="869" dy="14.6">_conflicts_menu</tspan><tspan x="869" dy="14.6">m_suppress_dbg_location</tspan></text>
<text x="169" y="2540">m_direct_shortcut<tspan x="169" dy="14.7">m_shift_modifier</tspan></text>
<text x="870" y="3093">current_directory_max<tspan x="870" dy="14.7">_count</tspan><tspan x="870" dy="14.7">current_directory</tspan><tspan x="870" dy="14.7">_max_visible</tspan></text>
<text x="1074" y="3368">m_argc</text>
</g>
</svg>
